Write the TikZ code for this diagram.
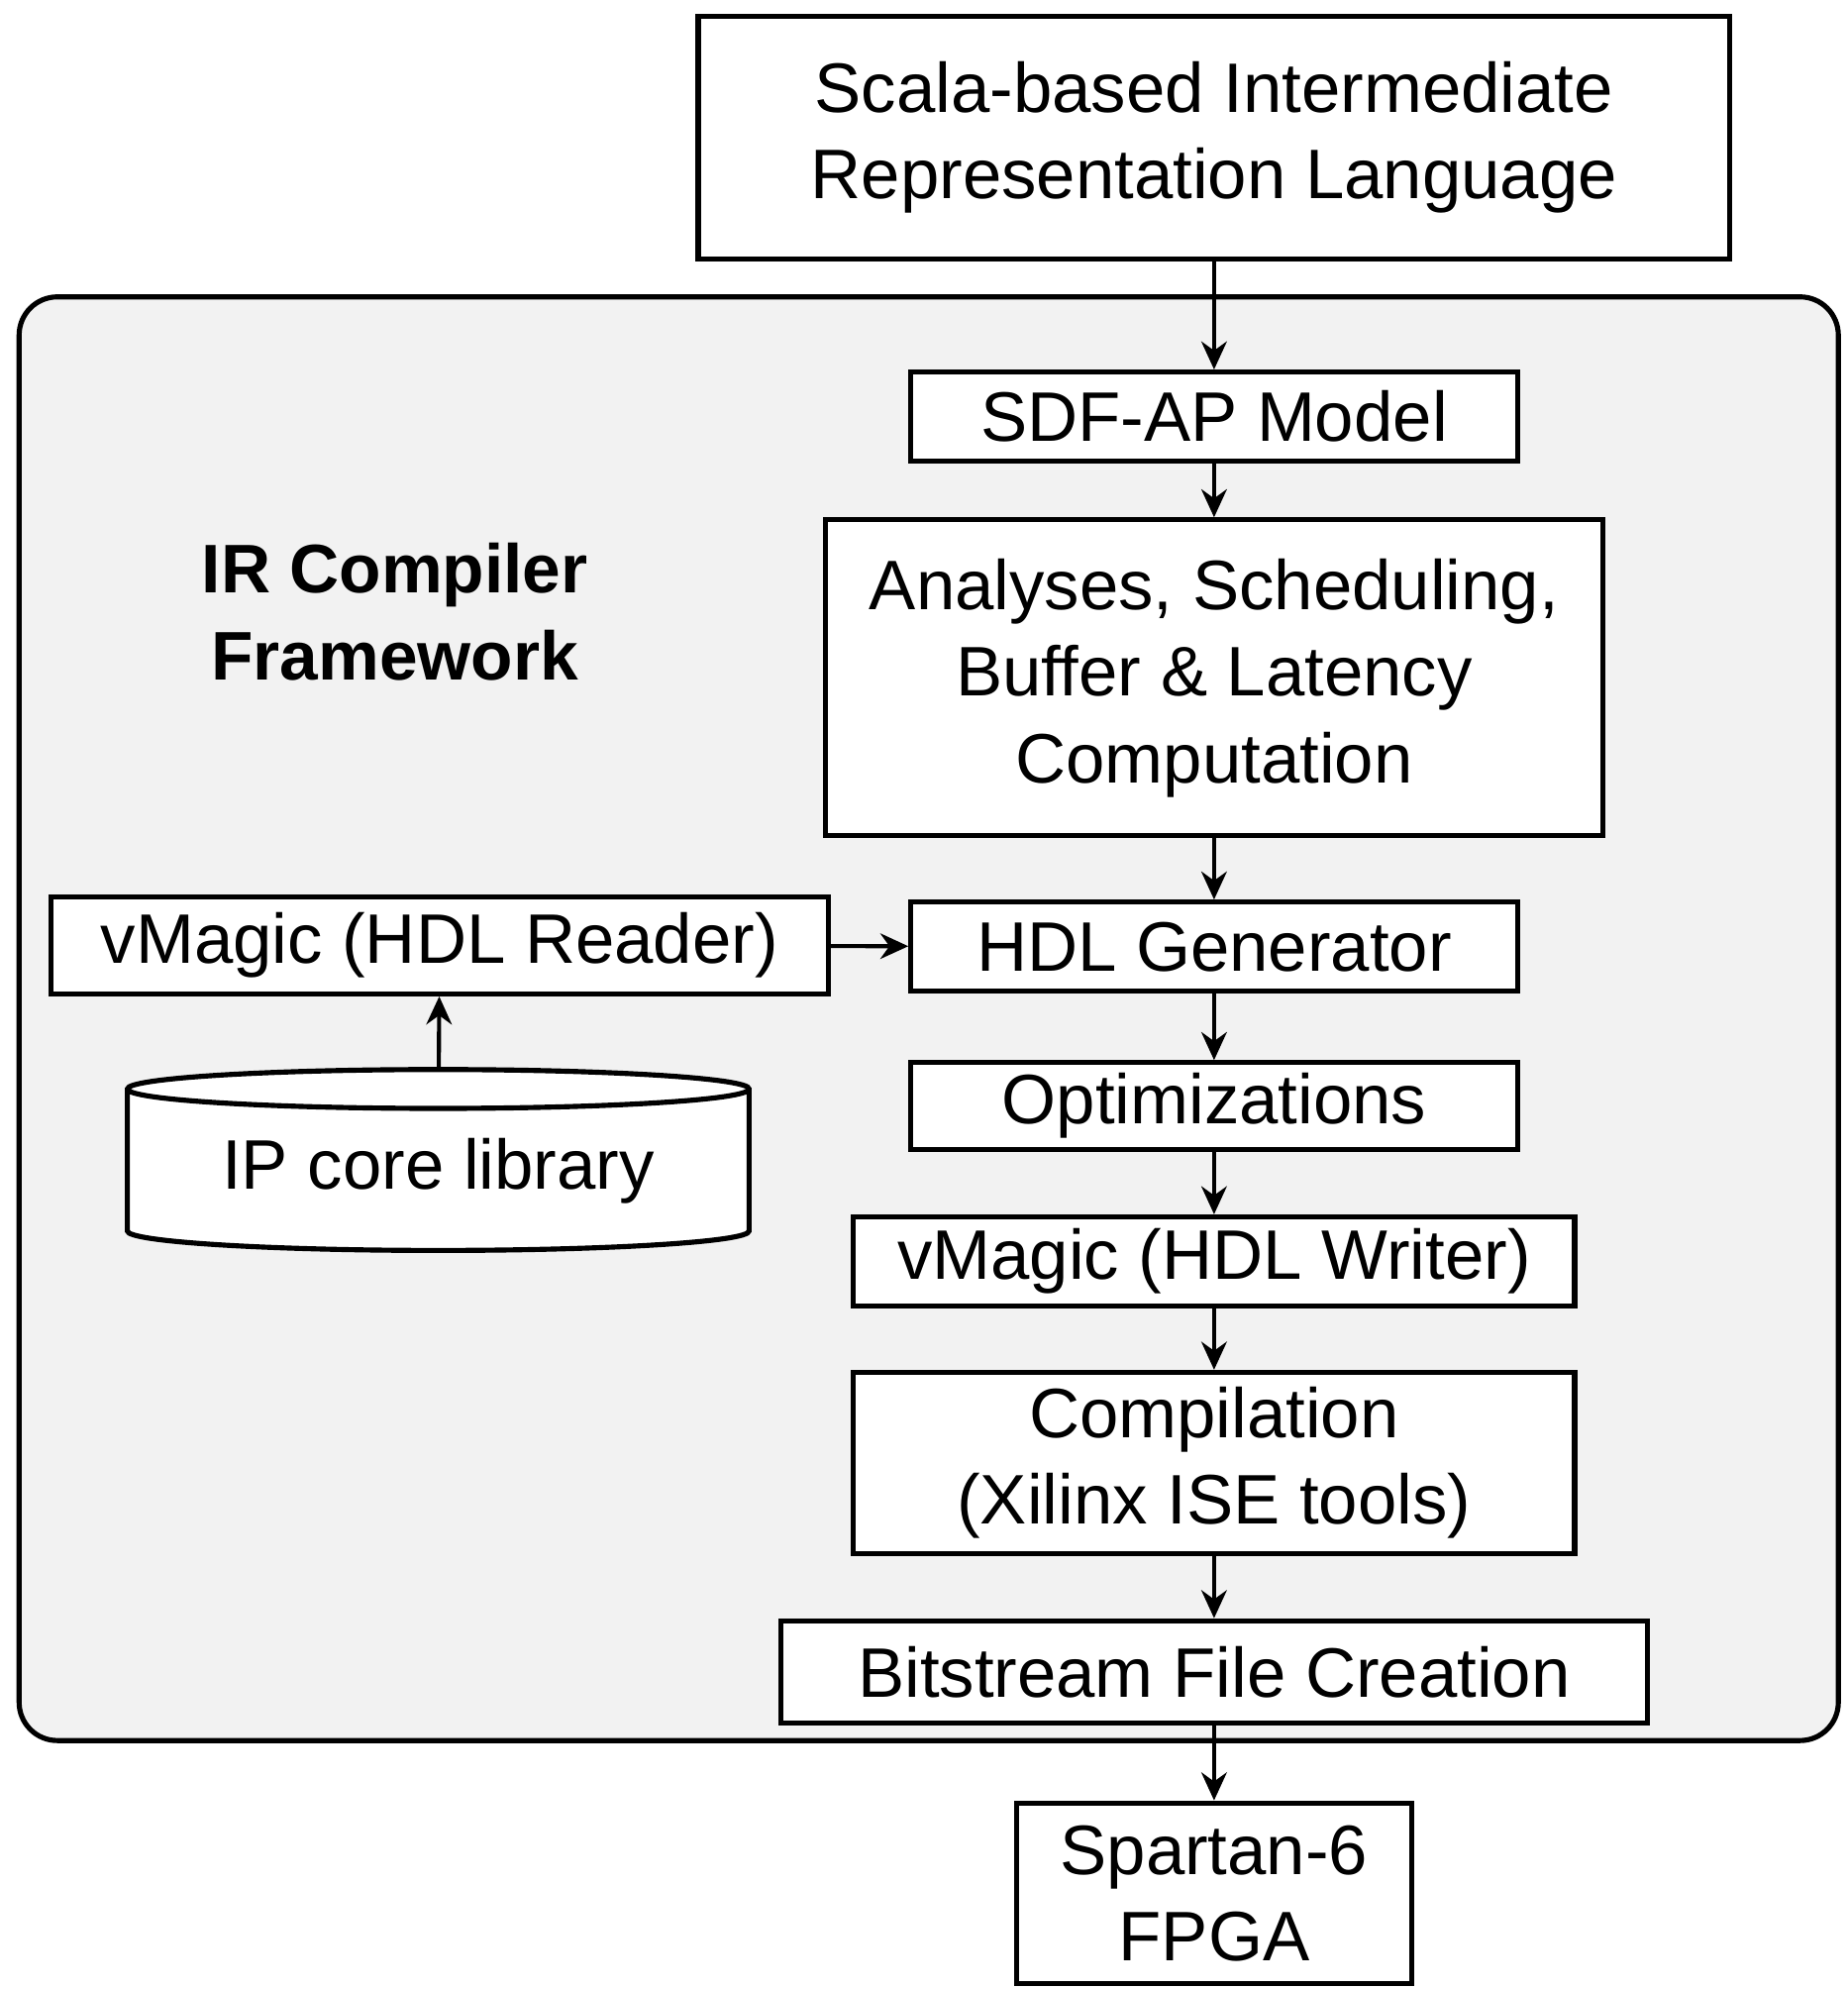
\documentclass[tikz,border=0pt]{standalone}
\usepackage{fontspec}
\setmainfont{Liberation Sans}
\usetikzlibrary{arrows.meta,shapes.geometric}
\definecolor{bggray}{HTML}{F2F2F2}
\begin{document}
\begin{tikzpicture}[x=0.5pt,y=-0.5pt,
  box/.style={draw,line width=2pt,fill=white,align=center,inner sep=0pt,
    font=\fontsize{27.5}{34}\selectfont},
  arr/.style={-{Stealth[length=11pt,width=10pt]},line width=1.6pt}]
\useasboundingbox (0,0) rectangle (1450,1561);
\draw[line width=2pt,fill=bggray,rounded corners=15pt] (15,233) rectangle (1443,1366);
\node[font=\fontsize{27}{34}\selectfont\bfseries,align=center] (title) at (310,480) {IR Compiler\\Framework};
\node[box,minimum width=405pt,minimum height=95pt] (scala) at (953,108) {Scala-based Intermediate\\Representation Language};
\node[box,minimum width=238pt,minimum height=35pt] (sdf) at (953,327) {SDF-AP Model};
\node[box,minimum width=305pt,minimum height=124pt] (ana) at (953,532) {Analyses, Scheduling,\\Buffer \& Latency\\Computation};
\node[box,minimum width=238pt,minimum height=35pt] (gen) at (953,743) {HDL Generator};
\node[box,minimum width=305pt,minimum height=38pt] (rdr) at (345,742) {vMagic (HDL Reader)};
\node[box,cylinder,shape border rotate=90,aspect=0.09,minimum width=244pt,minimum height=71pt] (ip) at (344,919) {IP core library};
\node[box,minimum width=238pt,minimum height=34pt] (opt) at (953,868) {Optimizations};
\node[box,minimum width=283pt,minimum height=35pt] (wr) at (953,990) {vMagic (HDL Writer)};
\node[box,minimum width=283pt,minimum height=71pt] (comp) at (953,1148) {Compilation\\(Xilinx ISE tools)};
\node[box,minimum width=340pt,minimum height=40pt] (bit) at (953,1312) {Bitstream File Creation};
\node[box,minimum width=155pt,minimum height=71pt] (fpga) at (953,1486) {Spartan-6\\FPGA};
\draw[arr] (scala) -- (sdf);
\draw[arr] (sdf) -- (ana);
\draw[arr] (ana) -- (gen);
\draw[arr] (gen) -- (opt);
\draw[arr] (opt) -- (wr);
\draw[arr] (wr) -- (comp);
\draw[arr] (comp) -- (bit);
\draw[arr] (bit) -- (fpga);
\draw[arr] (rdr) -- (gen);
\draw[arr] (ip) -- (rdr);
\end{tikzpicture}
\end{document}
